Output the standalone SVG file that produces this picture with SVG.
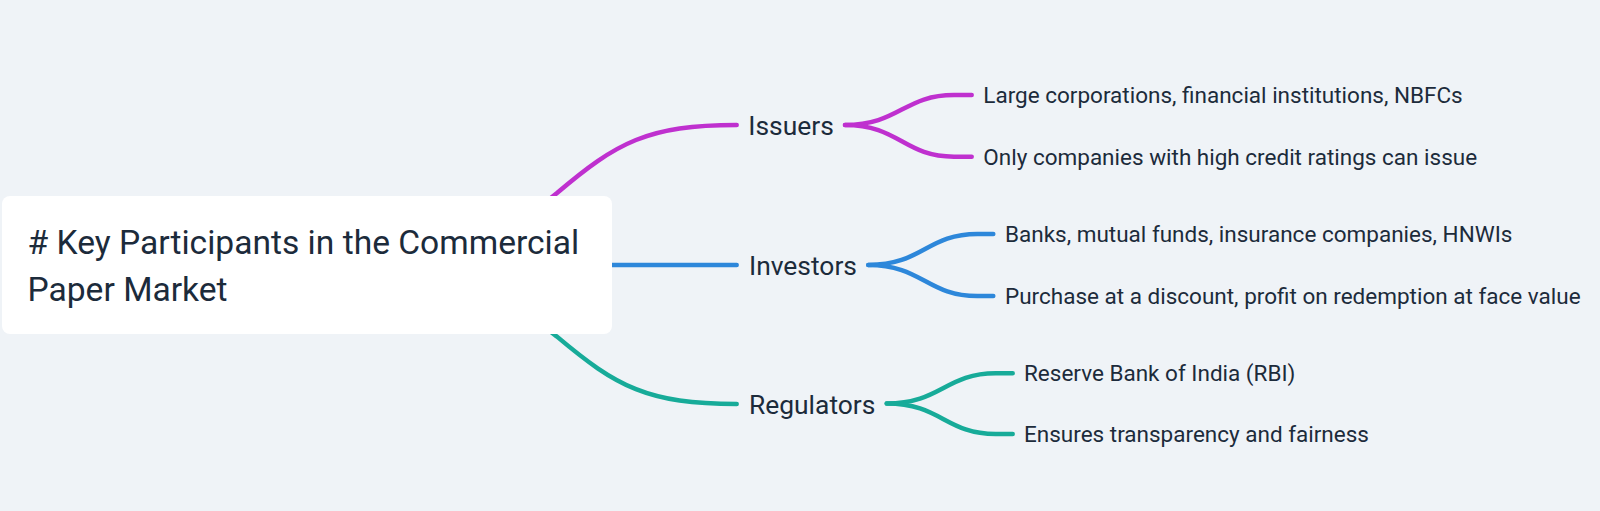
<svg xmlns="http://www.w3.org/2000/svg" width="1600" height="511" viewBox="0 0 1600 511">
<style>
.bg{fill:#eff3f7}
.rootbox{fill:#ffffff}
.t{font-family:Roboto,"Liberation Sans",sans-serif;fill:#1c2b3b}
.root{font-size:33.6px}
.l1{font-size:26.4px}
.l2{font-size:22.5px}
.c{fill:none;stroke-width:4.5;stroke-linecap:round;stroke-linejoin:round}
.p{stroke:#bf30cf}
.b{stroke:#2d87da}
.g{stroke:#17ab99}
</style>
<rect class="bg" x="0" y="0" width="1600" height="511"/>
<g id="connectors">
<path class="c p" d="M 536 210 L 556.7 193.3 C 616.7 142.3, 648 125, 736.7 125"/>
<path class="c b" d="M 600 265 L 736.7 265"/>
<path class="c g" d="M 536 320 L 556.7 336.4 C 616.7 387, 648 404, 736.7 404"/>
<path class="c p" d="M 845 125 C 899 125, 904 95, 954 95 L 971.7 95"/>
<path class="c p" d="M 845 125 C 899 125, 904 156.7, 954 156.7 L 971.7 156.7"/>
<path class="c b" d="M 868.3 265 C 922.3 265, 927.3 234, 977.3 234 L 993.3 234"/>
<path class="c b" d="M 868.3 265 C 922.3 265, 927.3 296, 977.3 296 L 993.3 296"/>
<path class="c g" d="M 886.7 403.5 C 940.7 403.5, 945.7 373.3, 995.7 373.3 L 1012.7 373.3"/>
<path class="c g" d="M 886.7 403.5 C 940.7 403.5, 945.7 434, 995.7 434 L 1012.7 434"/>
</g>
<g id="root">
<rect class="rootbox" x="2" y="196" width="610" height="138" rx="8"/>
<text class="t root" x="27.5" y="254"># Key Participants in the Commercial</text>
<text class="t root" x="27.5" y="301">Paper Market</text>
</g>
<g id="issuers"><text class="t l1" x="748.3" y="135">Issuers</text></g>
<g id="investors"><text class="t l1" x="749" y="275">Investors</text></g>
<g id="regulators"><text class="t l1" x="749" y="413.5">Regulators</text></g>
<g id="issuers-1"><text class="t l2" x="983.3" y="103">Large corporations, financial institutions, NBFCs</text></g>
<g id="issuers-2"><text class="t l2" x="983.3" y="164.7">Only companies with high credit ratings can issue</text></g>
<g id="investors-1"><text class="t l2" x="1005" y="242">Banks, mutual funds, insurance companies, HNWIs</text></g>
<g id="investors-2"><text class="t l2" x="1005" y="304">Purchase at a discount, profit on redemption at face value</text></g>
<g id="regulators-1"><text class="t l2" x="1024" y="381.3">Reserve Bank of India (RBI)</text></g>
<g id="regulators-2"><text class="t l2" x="1024" y="442">Ensures transparency and fairness</text></g>
</svg>
